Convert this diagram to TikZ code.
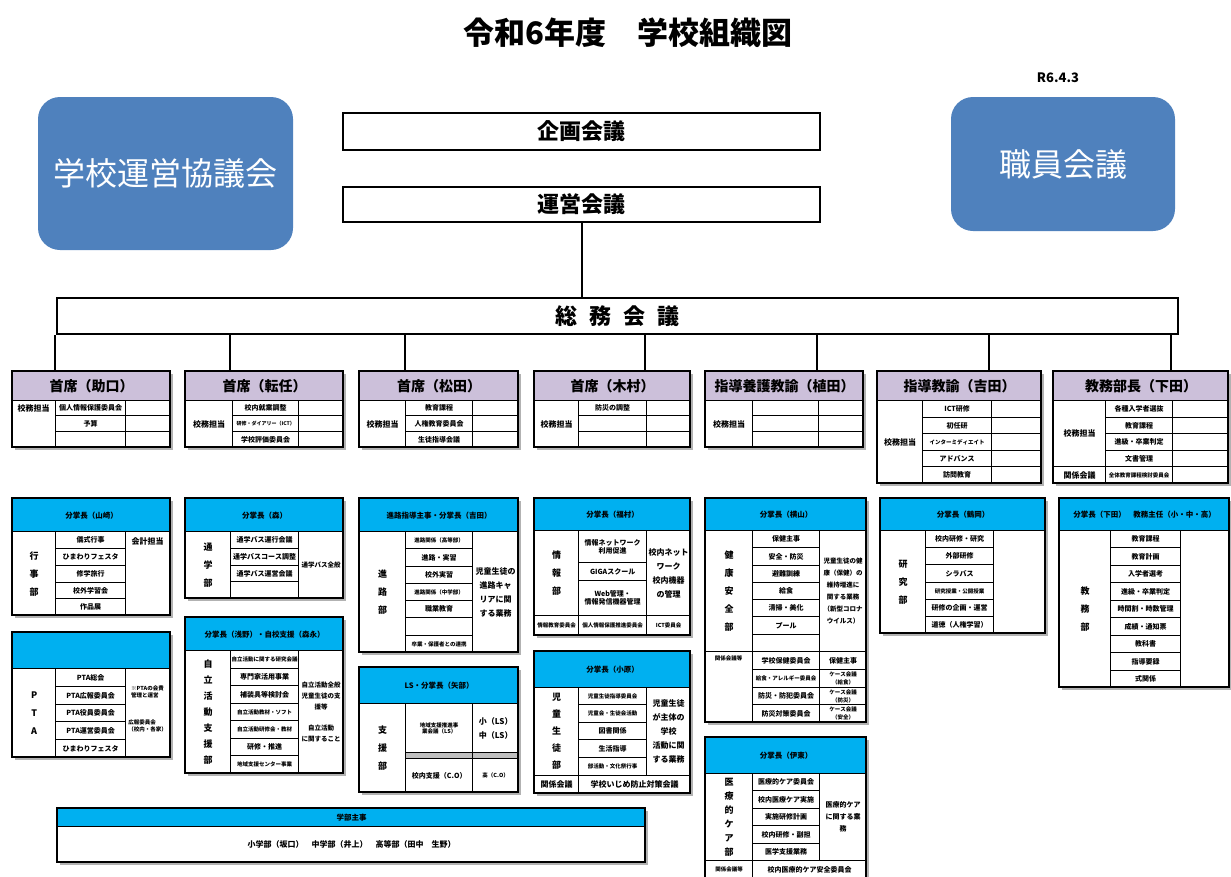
\documentclass[tikz,border=0pt]{standalone}
\usepackage{fontspec}
\setmainfont{Noto Sans CJK JP}
\XeTeXlinebreaklocale "ja"
\XeTeXlinebreakskip=0pt
\usetikzlibrary{positioning, calc}

\definecolor{lavender}{HTML}{CCC0DA}
\definecolor{skyblue}{HTML}{00B0F0}
\definecolor{councilblue}{HTML}{4F81BD}

\newcommand{\xs}{\fontsize{5.5}{6.5}\selectfont}

\tikzset{
  cell/.style={draw, fill=white, line width=1.4pt, inner sep=1pt, align=center, font=\bfseries\fontsize{7}{8}\selectfont},
  head/.style={fill=lavender, font=\bfseries\fontsize{14}{15}\selectfont},
  subhead/.style={fill=skyblue, font=\bfseries\fontsize{7.5}{8}\selectfont},
  vtext/.style={font=\bfseries\fontsize{9}{18}\selectfont},
  ltext/.style={font=\bfseries\fontsize{8}{9}\selectfont},
  rtext/.style={font=\bfseries\fontsize{8}{14}\selectfont},
  frame/.style={draw, line width=2.4pt},
  shade/.style={fill=black!30},
  meeting/.style={draw, line width=2.2pt, font=\bfseries\fontsize{22}{22}\selectfont},
  council/.style={fill=councilblue, rounded corners=22pt, text=white, font=\fontsize{32}{32}\selectfont},
  link/.style={line width=2pt},
}

% cell from top-left (#3,#4) to bottom-right (#5,#6)
\newcommand{\tcell}[7][]{%
  \pgfmathsetmacro{\cellw}{#5-#3-2}\pgfmathsetmacro{\cellh}{#6-#4}%
  \node[cell, anchor=north west, text width=\cellw pt, minimum height=\cellh pt, #1] (#2) at (#3,#4) {#7};%
}

\begin{document}
\begin{tikzpicture}[x=1pt, y=-1pt]
    \useasboundingbox (0,0) rectangle (1231,876);

    % Title
    \node[font=\bfseries\fontsize{31}{31}\selectfont] (title) at (628,33) {令和6年度　学校組織図};
    \node[font=\bfseries\fontsize{13}{13}\selectfont] (date) at (1058,78) {R6.4.3};

    % Councils and meetings
    \node[council, minimum width=255pt, minimum height=153pt] (kyogikai) at (165.5,173.5) {学校運営協議会};
    \node[council, minimum width=224pt, minimum height=134pt] (shokuin) at (1063,164) {職員会議};
    \node[meeting, minimum width=477pt, minimum height=37pt] (kikaku) at (581.5,131.5) {企画会議};
    \node[meeting, minimum width=477pt, minimum height=35pt] (unei) at (581.5,204.5) {運営会議};
    \node[meeting, minimum width=1121pt, minimum height=36pt] (soumu) at (617.5,316)
        {総\hspace{12pt}務\hspace{12pt}会\hspace{12pt}議};

    % Outer boxes (x0/y0/x1/y1)
    \def\boxlist{12/371/170/447, 185/371/343/447, 359/371/518/447, 534/371/690/447,
        705/371/863/447, 877/371/1041/483, 1053/371/1228/483,
        12/498/170/615, 12/632/170/757, 185/498/343/598, 185/617/343/773,
        359/498/518/652, 359/667/518/792, 534/498/690/635, 534/651/690/793,
        705/498/866/722, 705/737/866/878, 880/498/1045/633, 1059/498/1229/687,
        57/808/645/862}
    \foreach \a/\b/\c/\d in \boxlist {
        \fill[shade] (\a+3,\b+3) rectangle (\c+3,\d+3);
    }

    % ---- Top row: heads and their duties ----
    % Column 1
    \tcell[head]{c1}{12}{371}{170}{400}{首席（助口）}
    \tcell{c1l}{12}{400}{55}{447}{}
    \node[ltext] (c1t) at (33.5,408) {校務担当};
    \foreach \a/\b/\t [count=\i] in {400/415/個人情報保護委員会, 415/431/予算, 431/447/} {
        \tcell{c1m\i}{55}{\a}{125}{\b}{\t}
        \tcell{c1r\i}{125}{\a}{170}{\b}{}
    }

    % Column 2
    \tcell[head]{c2}{185}{371}{343}{400}{首席（転任）}
    \tcell[ltext]{c2l}{185}{400}{232}{447}{校務担当}
    \foreach \a/\b/\t [count=\i] in {400/415/校内就業調整, 415/431/{\fontsize{5}{6}\selectfont 研修・ダイアリー（ICT）}, 431/447/学校評価委員会} {
        \tcell{c2m\i}{232}{\a}{298}{\b}{\t}
        \tcell{c2r\i}{298}{\a}{343}{\b}{}
    }

    % Column 3
    \tcell[head]{c3}{359}{371}{518}{400}{首席（松田）}
    \tcell[ltext]{c3l}{359}{400}{405}{447}{校務担当}
    \foreach \a/\b/\t [count=\i] in {400/415/教育課程, 415/431/人権教育委員会, 431/447/生徒指導会議} {
        \tcell{c3m\i}{405}{\a}{472}{\b}{\t}
        \tcell{c3r\i}{472}{\a}{518}{\b}{}
    }

    % Column 4
    \tcell[head]{c4}{534}{371}{690}{400}{首席（木村）}
    \tcell[ltext]{c4l}{534}{400}{578}{447}{校務担当}
    \foreach \a/\b/\t [count=\i] in {400/415/防災の調整, 415/431/, 431/447/} {
        \tcell{c4m\i}{578}{\a}{646}{\b}{\t}
        \tcell{c4r\i}{646}{\a}{690}{\b}{}
    }

    % Column 5
    \tcell[head]{c5}{705}{371}{863}{400}{指導養護教諭（植田）}
    \tcell[ltext]{c5l}{705}{400}{752}{447}{校務担当}
    \foreach \a/\b [count=\i] in {400/415, 415/431, 431/447} {
        \tcell{c5m\i}{752}{\a}{818}{\b}{}
        \tcell{c5r\i}{818}{\a}{863}{\b}{}
    }

    % Column 6
    \tcell[head]{c6}{877}{371}{1041}{400}{指導教諭（吉田）}
    \tcell[ltext]{c6l}{877}{400}{922}{483}{校務担当}
    \foreach \a/\b/\t [count=\i] in {400/417/ICT研修, 417/433/初任研, 433/450/{\xs インターミディエイト},
            450/466/アドバンス, 466/483/訪問教育} {
        \tcell{c6m\i}{922}{\a}{991}{\b}{\t}
        \tcell{c6r\i}{991}{\a}{1041}{\b}{}
    }

    % Column 7
    \tcell[head]{c7}{1053}{371}{1228}{400}{教務部長（下田）}
    \tcell[ltext]{c7l}{1053}{400}{1105}{466}{校務担当}
    \tcell[ltext]{c7k}{1053}{466}{1105}{483}{関係会議}
    \foreach \a/\b/\t [count=\i] in {400/417/各種入学者選抜, 417/433/教育課程, 433/450/進級・卒業判定,
            450/466/文書管理, 466/483/{\xs 全体教育課程検討委員会}} {
        \tcell{c7m\i}{1105}{\a}{1172}{\b}{\t}
        \tcell{c7r\i}{1172}{\a}{1228}{\b}{}
    }

    % Links from the general meeting
    \draw[link] (unei.south) -- (unei.south |- soumu.north);
    \foreach \x [count=\i] in {55,230,405,645,817,989,1171}
        \draw[link] (soumu.south -| \x,0) -- (c\i.north -| \x,0);

    % ---- Divisions ----
    % Events
    \tcell[subhead]{s1}{12}{498}{170}{531}{分掌長（山崎）}
    \tcell[vtext]{s1l}{12}{531}{55}{615}{行\\事\\部}
    \foreach \a/\b/\t [count=\i] in {531/548/儀式行事, 548/565/ひまわりフェスタ, 565/582/修学旅行,
            582/598/校外学習会, 598/615/作品展}
        \tcell{s1m\i}{55}{\a}{125}{\b}{\t};
    \tcell{s1r}{125}{531}{170}{615}{}
    \node[ltext] (s1t) at (147.5,541) {会計担当};

    % PTA
    \tcell[subhead]{s2}{12}{632}{170}{668}{}
    \tcell[vtext]{s2l}{12}{668}{55}{757}{P\\T\\A}
    \foreach \a/\b/\t [count=\i] in {668/686/PTA総会, 686/704/PTA広報委員会, 704/721/PTA役員委員会,
            721/739/PTA運営委員会, 739/757/ひまわりフェスタ}
        \tcell{s2m\i}{55}{\a}{125}{\b}{\t};
    \tcell{s2r}{125}{668}{170}{757}{}
    \node[font=\bfseries\xs, align=left] (s2t) at (147.5,692) {※PTAの会費\\管理と運営};
    \node[font=\bfseries\xs, align=left] (s2u) at (147.5,726) {広報委員会\\（校内・各家）};

    % Commuting
    \tcell[subhead]{s3}{185}{498}{343}{531}{分掌長（森）}
    \tcell[vtext]{s3l}{185}{531}{230}{598}{通\\学\\部}
    \foreach \a/\b/\t [count=\i] in {531/548/通学バス運行会議, 548/565/通学バスコース調整,
            565/581/通学バス運営会議, 581/598/}
        \tcell{s3m\i}{230}{\a}{298}{\b}{\t};
    \tcell[font=\bfseries\fontsize{6.5}{8}\selectfont]{s3r}{298}{531}{343}{598}{通学バス全般}

    % Self-reliance support
    \tcell[subhead]{s4}{185}{617}{343}{650}{分掌長（浅野）・自校支援（森永）}
    \tcell[vtext, font=\bfseries\fontsize{9}{16}\selectfont]{s4l}{185}{650}{230}{773}{自\\立\\活\\動\\支\\援\\部}
    \foreach \a/\b/\t [count=\i] in {650/668/{\xs 自立活動に関する研究会議}, 668/685/専門家活用事業,
            685/703/補装具等検討会, 703/720/{\xs 自立活動教材・ソフト}, 720/738/{\xs 自立活動研修会・教材},
            738/755/研修・推進, 755/773/{\xs 地域支援センター事業}}
        \tcell{s4m\i}{230}{\a}{298}{\b}{\t};
    \tcell[font=\bfseries\fontsize{6.5}{11}\selectfont]{s4r}{298}{650}{343}{773}{自立活動全般\\児童生徒の支\\援等\\[10pt]自立活動\\に関すること}

    % Career
    \tcell[subhead]{s5}{359}{498}{518}{531}{進路指導主事・分掌長（吉田）}
    \tcell[vtext]{s5l}{359}{531}{405}{652}{進\\路\\部}
    \foreach \a/\b/\t [count=\i] in {531/548/{\xs 進路関係（高等部）}, 548/566/進路・実習, 566/583/校外実習,
            583/600/{\xs 進路関係（中学部）}, 600/617/職業教育, 617/635/, 635/652/{\xs 卒業・保護者との連携}}
        \tcell{s5m\i}{405}{\a}{472}{\b}{\t};
    \tcell[rtext]{s5r}{472}{531}{518}{652}{児童生徒の進路キャリアに関する業務}

    % Support
    \tcell[subhead]{s6}{359}{667}{518}{703}{LS・分掌長（矢部）}
    \tcell[vtext]{s6l}{359}{703}{405}{792}{支\\援\\部}
    \tcell[font=\bfseries\xs]{s6m1}{405}{703}{472}{752}{地域支援推進事業会議（LS）}
    \tcell[fill=black!25]{s6m2}{405}{752}{472}{758}{}
    \tcell{s6m3}{405}{758}{472}{792}{校内支援（C.O）}
    \tcell[rtext]{s6r1}{472}{703}{518}{752}{小（LS）\\中（LS）}
    \tcell[fill=black!25]{s6r2}{472}{752}{518}{758}{}
    \tcell[font=\bfseries\xs]{s6r3}{472}{758}{518}{792}{高（C.O）}

    % Information
    \tcell[subhead]{s7}{534}{498}{690}{530}{分掌長（福村）}
    \tcell[vtext]{s7l}{534}{530}{578}{615}{情\\報\\部}
    \tcell{s7m1}{578}{530}{646}{562}{情報ネットワーク\\利用促進}
    \tcell{s7m2}{578}{562}{646}{580}{GIGAスクール}
    \tcell{s7m3}{578}{580}{646}{615}{Web管理・\\情報発信機器管理}
    \tcell[rtext]{s7r}{646}{530}{690}{615}{校内ネット\\ワーク\\校内機器\\の管理}
    \tcell[font=\bfseries\xs]{s7b1}{534}{615}{578}{635}{情報教育委員会}
    \tcell[font=\bfseries\xs]{s7b2}{578}{615}{646}{635}{個人情報保護推進委員会}
    \tcell[font=\bfseries\xs]{s7b3}{646}{615}{690}{635}{ICT委員会}

    % Pupils
    \tcell[subhead]{s8}{534}{651}{690}{687}{分掌長（小原）}
    \tcell[vtext, font=\bfseries\fontsize{9}{17}\selectfont]{s8l}{534}{687}{578}{775}{児\\童\\生\\徒\\部}
    \foreach \a/\b/\t [count=\i] in {687/704/{\xs 児童生徒指導委員会}, 704/722/{\xs 児童会・生徒会活動},
            722/739/図書関係, 739/757/生活指導, 757/775/{\xs 部活動・文化祭行事}}
        \tcell{s8m\i}{578}{\a}{646}{\b}{\t};
    \tcell[rtext]{s8r}{646}{687}{690}{775}{児童生徒\\が主体の\\学校\\活動に関\\する業務}
    \tcell[ltext]{s8b1}{534}{775}{578}{793}{関係会議}
    \tcell[ltext]{s8b2}{578}{775}{690}{793}{学校いじめ防止対策会議}

    % Health and safety
    \tcell[subhead]{s9}{705}{498}{866}{530}{分掌長（横山）}
    \tcell[vtext]{s9l}{705}{530}{752}{651}{健\\康\\安\\全\\部}
    \foreach \a/\b/\t [count=\i] in {530/547/保健主事, 547/565/安全・防災, 565/582/避難訓練, 582/599/給食,
            599/616/清掃・美化, 616/634/プール, 634/651/}
        \tcell{s9m\i}{752}{\a}{819}{\b}{\t};
    \tcell[font=\bfseries\fontsize{6.5}{12}\selectfont]{s9r}{819}{530}{866}{651}{児童生徒の健康（保健）の維持増進に関する業務（新型コロナウイルス）}
    \tcell{s9k}{705}{651}{752}{722}{}
    \node[font=\bfseries\xs] (s9t) at (728.5,658) {関係会議等};
    \foreach \a/\b/\t/\u [count=\i] in {651/669/学校保健委員会/保健主事, 669/687/{\xs 給食・アレルギー委員会}/{\xs ケース会議（給食）},
            687/704/防災・防犯委員会/{\xs ケース会議（防災）}, 704/722/防災対策委員会/{\xs ケース会議（安全）}} {
        \tcell{s9n\i}{752}{\a}{819}{\b}{\t}
        \tcell{s9s\i}{819}{\a}{866}{\b}{\u}
    }

    % Medical care
    \tcell[subhead]{s10}{705}{737}{866}{773}{分掌長（伊東）}
    \tcell[vtext, font=\bfseries\fontsize{9}{14}\selectfont]{s10l}{705}{773}{752}{860}{医\\療\\的\\ケ\\ア\\部}
    \foreach \a/\b/\t [count=\i] in {773/790/医療的ケア委員会, 790/808/校内医療ケア実施, 808/825/実施研修計画,
            825/843/校内研修・副担, 843/860/医学支援業務}
        \tcell{s10m\i}{752}{\a}{819}{\b}{\t};
    \tcell[font=\bfseries\fontsize{7}{12}\selectfont]{s10r}{819}{773}{866}{860}{医療的ケア\\に関する業\\務}
    \tcell[font=\bfseries\xs]{s10b1}{705}{860}{752}{878}{関係会議等}
    \tcell{s10b2}{752}{860}{866}{878}{校内医療的ケア安全委員会}

    % Research
    \tcell[subhead]{s11}{880}{498}{1045}{530}{分掌長（鶴岡）}
    \tcell[vtext]{s11l}{880}{530}{925}{633}{研\\究\\部}
    \foreach \a/\b/\t [count=\i] in {530/547/校内研修・研究, 547/564/外部研修, 564/582/シラバス,
            582/599/{\xs 研究授業・公開授業}, 599/616/研修の企画・運営, 616/633/道徳（人権学習）}
        \tcell{s11m\i}{925}{\a}{993}{\b}{\t};
    \tcell{s11r}{993}{530}{1045}{633}{}

    % Academic affairs
    \tcell[subhead]{s12}{1059}{498}{1229}{530}{分掌長（下田）　教務主任（小・中・高）}
    \tcell[vtext]{s12l}{1059}{530}{1110}{687}{教\\務\\部}
    \foreach \a/\b/\t [count=\i] in {530/547/教育課程, 547/565/教育計画, 565/582/入学者選考, 582/600/進級・卒業判定,
            600/617/時間割・時数管理, 617/635/成績・通知票, 635/652/教科書, 652/670/指導要録, 670/687/式関係}
        \tcell{s12m\i}{1110}{\a}{1180}{\b}{\t};
    \tcell{s12r}{1180}{530}{1229}{687}{}

    % Department heads
    \tcell[subhead]{s13}{57}{808}{645}{826}{学部主事}
    \tcell[ltext]{s13b}{57}{826}{645}{862}{小学部（坂口）　中学部（井上）　高等部（田中　生野）}

    % Frames on top
    \foreach \a/\b/\c/\d in \boxlist {
        \draw[frame] (\a,\b) rectangle (\c,\d);
    }
\end{tikzpicture}
\end{document}
